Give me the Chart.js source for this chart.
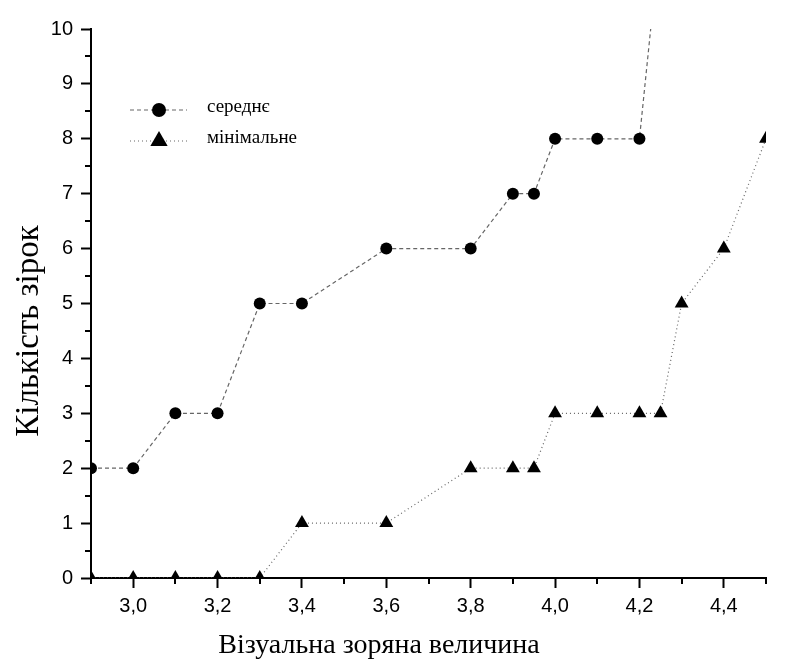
<!DOCTYPE html>
<html lang="uk">
  <head>
    <meta charset="UTF-8" />
    <title>Кількість зірок</title>
    <script src="https://cdn.jsdelivr.net/npm/chart.js"></script>
    <style>
      body { margin: 0; background: #fff; }
      #wrap { width: 798px; height: 670px; }
    </style>
  </head>
  <body>
    <div id="wrap"><canvas id="chart"></canvas></div>
    <script>
      // data
      const avgMag = [2.9, 3.0, 3.1, 3.2, 3.3, 3.4, 3.6, 3.8, 3.9, 3.95, 4.0, 4.1, 4.2, 4.3];
      const avgCount = [2, 2, 3, 3, 5, 5, 6, 6, 7, 7, 8, 8, 8, 15.5];
      const minMag = [2.9, 3.0, 3.1, 3.2, 3.3, 3.4, 3.6, 3.8, 3.9, 3.95, 4.0, 4.1, 4.2, 4.25, 4.3, 4.4, 4.5];
      const minCount = [0, 0, 0, 0, 0, 1, 1, 2, 2, 2, 3, 3, 3, 3, 5, 6, 8];
      const xTicks = [3.0, 3.2, 3.4, 3.6, 3.8, 4.0, 4.2, 4.4];
      const xMinor = [2.9, 3.1, 3.3, 3.5, 3.7, 3.9, 4.1, 4.3, 4.5];
      const yTicks = [0, 1, 2, 3, 4, 5, 6, 7, 8, 9, 10];
      const yMinor = [0.5, 1.5, 2.5, 3.5, 4.5, 5.5, 6.5, 7.5, 8.5, 9.5];
      const seriesNames = ["середнє", "мінімальне"];
      const xTitle = "Візуальна зоряна величина";
      const yTitle = "Кількість зірок";

      const pts = (xs, ys) => xs.map((x, i) => ({ x: x, y: ys[i] }));
      const serif = '"Liberation Serif", "Times New Roman", serif';

      // minor ticks, axis titles and the legend box inside the plot
      const extras = {
        id: "extras",
        afterDraw(chart) {
          const ctx = chart.ctx;
          const xs = chart.scales.x, ys = chart.scales.y;
          const a = chart.chartArea;
          ctx.save();
          ctx.strokeStyle = "#000";
          ctx.lineWidth = 2;
          xMinor.forEach((v) => {
            const px = Math.round(xs.getPixelForValue(v));
            ctx.beginPath();
            ctx.moveTo(px, a.bottom);
            ctx.lineTo(px, a.bottom + 6);
            ctx.stroke();
          });
          yMinor.forEach((v) => {
            const py = Math.round(ys.getPixelForValue(v));
            ctx.beginPath();
            ctx.moveTo(a.left, py);
            ctx.lineTo(a.left - 6, py);
            ctx.stroke();
          });

          ctx.fillStyle = "#000";
          ctx.textAlign = "center";
          ctx.textBaseline = "alphabetic";
          ctx.font = "28px " + serif;
          ctx.fillText(xTitle, 379, 653);
          ctx.font = "33px " + serif;
          ctx.translate(38, 331);
          ctx.rotate(-Math.PI / 2);
          ctx.fillText(yTitle, 0, 0);
          ctx.restore();

          // legend
          ctx.save();
          const rows = [110, 141];
          const legendR = [7, 10];
          chart.data.datasets.forEach((ds, i) => {
            const y = rows[i];
            ctx.strokeStyle = ds.borderColor;
            ctx.lineWidth = ds.borderWidth;
            ctx.setLineDash(ds.borderDash);
            ctx.beginPath();
            ctx.moveTo(130, y);
            ctx.lineTo(187, y);
            ctx.stroke();
            ctx.setLineDash([]);
            ctx.fillStyle = "#000";
            ctx.beginPath();
            const r = legendR[i];
            if (ds.pointStyle === "circle") {
              ctx.arc(159, y, r, 0, Math.PI * 2);
            } else {
              ctx.moveTo(159, y - r);
              ctx.lineTo(159 + r * 0.866, y + r * 0.5);
              ctx.lineTo(159 - r * 0.866, y + r * 0.5);
              ctx.closePath();
            }
            ctx.fill();
            ctx.font = "19px " + serif;
            ctx.textAlign = "left";
            ctx.textBaseline = "middle";
            ctx.fillText(seriesNames[i], 207, y - 3);
          });
          ctx.restore();
        },
      };

      new Chart(document.getElementById("chart"), {
        type: "line",
        data: {
          datasets: [
            {
              label: seriesNames[0],
              data: pts(avgMag, avgCount),
              borderColor: "#666",
              borderWidth: 1.2,
              borderDash: [4, 3],
              pointStyle: "circle",
              pointRadius: 6,
              pointBackgroundColor: "#000",
              pointBorderWidth: 0,
              clip: 0,
            },
            {
              label: seriesNames[1],
              data: pts(minMag, minCount),
              borderColor: "#666",
              borderWidth: 1.2,
              borderDash: [1, 3],
              pointStyle: "triangle",
              pointRadius: 8,
              pointBackgroundColor: "#000",
              pointBorderWidth: 0,
              clip: 0,
            },
          ],
        },
        options: {
          responsive: true,
          maintainAspectRatio: false,
          animation: false,
          layout: { padding: { top: 29, right: 32, left: 0, bottom: 0 } },
          plugins: { legend: { display: false }, tooltip: { enabled: false } },
          scales: {
            x: {
              type: "linear",
              min: 2.9,
              max: 4.5,
              afterBuildTicks: (s) => { s.ticks = xTicks.map((v) => ({ value: v })); },
              afterFit: (s) => { s.height = 92; },
              border: { display: true, color: "#000", width: 2 },
              grid: { drawOnChartArea: false, tickLength: 10, tickColor: "#000", tickWidth: 2 },
              ticks: {
                color: "#000",
                padding: 6,
                maxRotation: 0,
                font: { family: '"Liberation Sans", Arial, sans-serif', size: 20 },
                callback: (v) => Number(v).toFixed(1).replace(".", ","),
              },
            },
            y: {
              min: 0,
              max: 10,
              afterBuildTicks: (s) => { s.ticks = yTicks.map((v) => ({ value: v })); },
              afterFit: (s) => { s.width = 91; },
              border: { display: true, color: "#000", width: 2 },
              grid: { drawOnChartArea: false, tickLength: 10, tickColor: "#000", tickWidth: 2 },
              ticks: {
                color: "#000",
                padding: 8,
                font: { family: '"Liberation Sans", Arial, sans-serif', size: 20 },
              },
            },
          },
        },
        plugins: [extras],
      });
    </script>
  </body>
</html>
